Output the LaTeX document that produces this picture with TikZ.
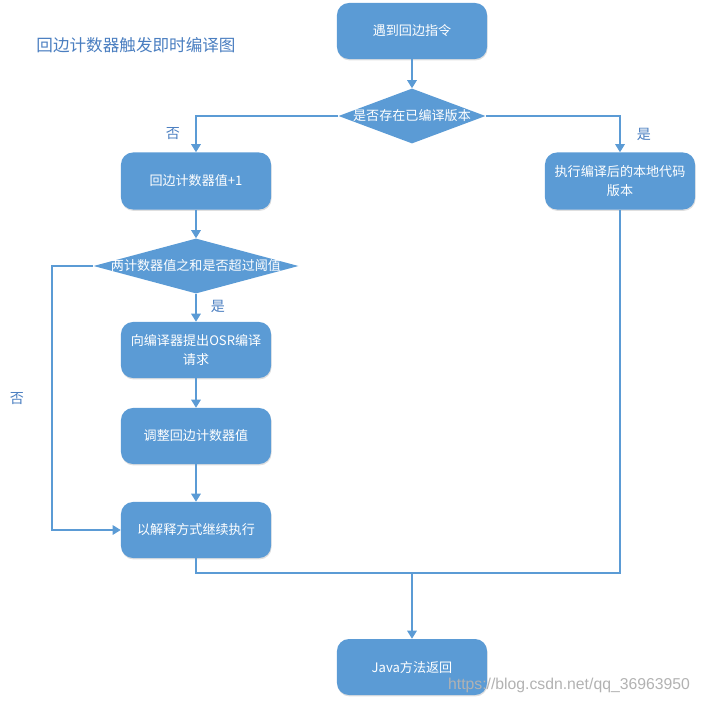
\documentclass[tikz,border=0pt]{standalone}
\usepackage{fontspec}
\setmainfont{Noto Sans CJK SC}
\newfontfamily\wmfont{Liberation Sans}
\usetikzlibrary{arrows.meta,shapes.geometric,shadows}
\definecolor{boxblue}{HTML}{5B9BD5}
\definecolor{txtblue}{HTML}{4A7EC0}
\tikzset{
  box/.style   ={fill=boxblue,rounded corners=0.3cm,align=center,
                 minimum width=3.75cm,minimum height=1.4cm,text=white,
                 font=\fontsize{9.3}{13.5}\selectfont,inner sep=2pt,
                 drop shadow={shadow xshift=0.4pt,shadow yshift=-1pt,opacity=0.25}},
  dec/.style   ={diamond,fill=boxblue,inner sep=0pt},
  dectxt/.style={text=white,font=\fontsize{9.3}{13.5}\selectfont,inner sep=0pt},
  line/.style  ={draw=boxblue,line width=0.75pt},
  flow/.style  ={line,-{Triangle[length=2mm,width=2.4mm]}},
  lbl/.style   ={text=txtblue,font=\fontsize{10}{12}\selectfont,inner sep=1pt},
}
\begin{document}
\begin{tikzpicture}[x=0.025cm,y=-0.025cm]
  \useasboundingbox (0,0) rectangle (701,703);

  \node[text=txtblue,font=\fontsize{11.8}{14}\selectfont] (ttl) at (136,45)
    {回边计数器触发即时编译图};

  % right branch
  \node[box] (meet) at (412,31) {遇到回边指令};
  \node[dec,minimum width=3.675cm,minimum height=1.375cm,
        label={[dectxt]center:是否存在已编译版本}] (hasver) at (412,116) {};
  \node[box,minimum height=1.425cm] (native) at (620,181) {执行编译后的本地代码\\版本};

  % left branch
  \node[box,minimum height=1.425cm] (incr) at (196,181) {回边计数器值+1};
  \node[dec,minimum width=5.125cm,minimum height=1.375cm,
        label={[dectxt]center:两计数器值之和是否超过阈值}] (over) at (196,266) {};
  \node[box] (osr) at (196,350) {向编译器提出OSR编译\\请求};
  \node[box] (adjust) at (196,436) {调整回边计数器值};
  \node[box] (interp) at (196,530) {以解释方式继续执行};
  \node[box] (ret) at (412,667) {Java方法返回};

  \coordinate (lft) at (52,266);
  \coordinate (join) at (412,573);

  \draw[flow] (meet) -- (hasver);
  \draw[flow] (hasver.west) -| (incr);
  \draw[flow] (hasver.east) -| (native);
  \draw[flow] (incr) -- (over);
  \draw[flow] (over) -- (osr);
  \draw[flow] (osr) -- (adjust);
  \draw[flow] (adjust) -- (interp);
  \draw[flow] (over.west) -- (lft) |- (interp);
  \draw[line] (interp) |- (join);
  \draw[line] (native) |- (join);
  \draw[flow] (join) -- (ret);

  \node[lbl] (no1)  at (173,134) {否};
  \node[lbl] (yes1) at (644,134) {是};
  \node[lbl] (yes2) at (218,306) {是};
  \node[lbl] (no2)  at (17,399)  {否};

  \node[text=gray!60,font=\wmfont\fontsize{11.2}{13}\selectfont] (wm) at (569,685)
    {https://blog.csdn.net/qq\_36963950};
\end{tikzpicture}
\end{document}
